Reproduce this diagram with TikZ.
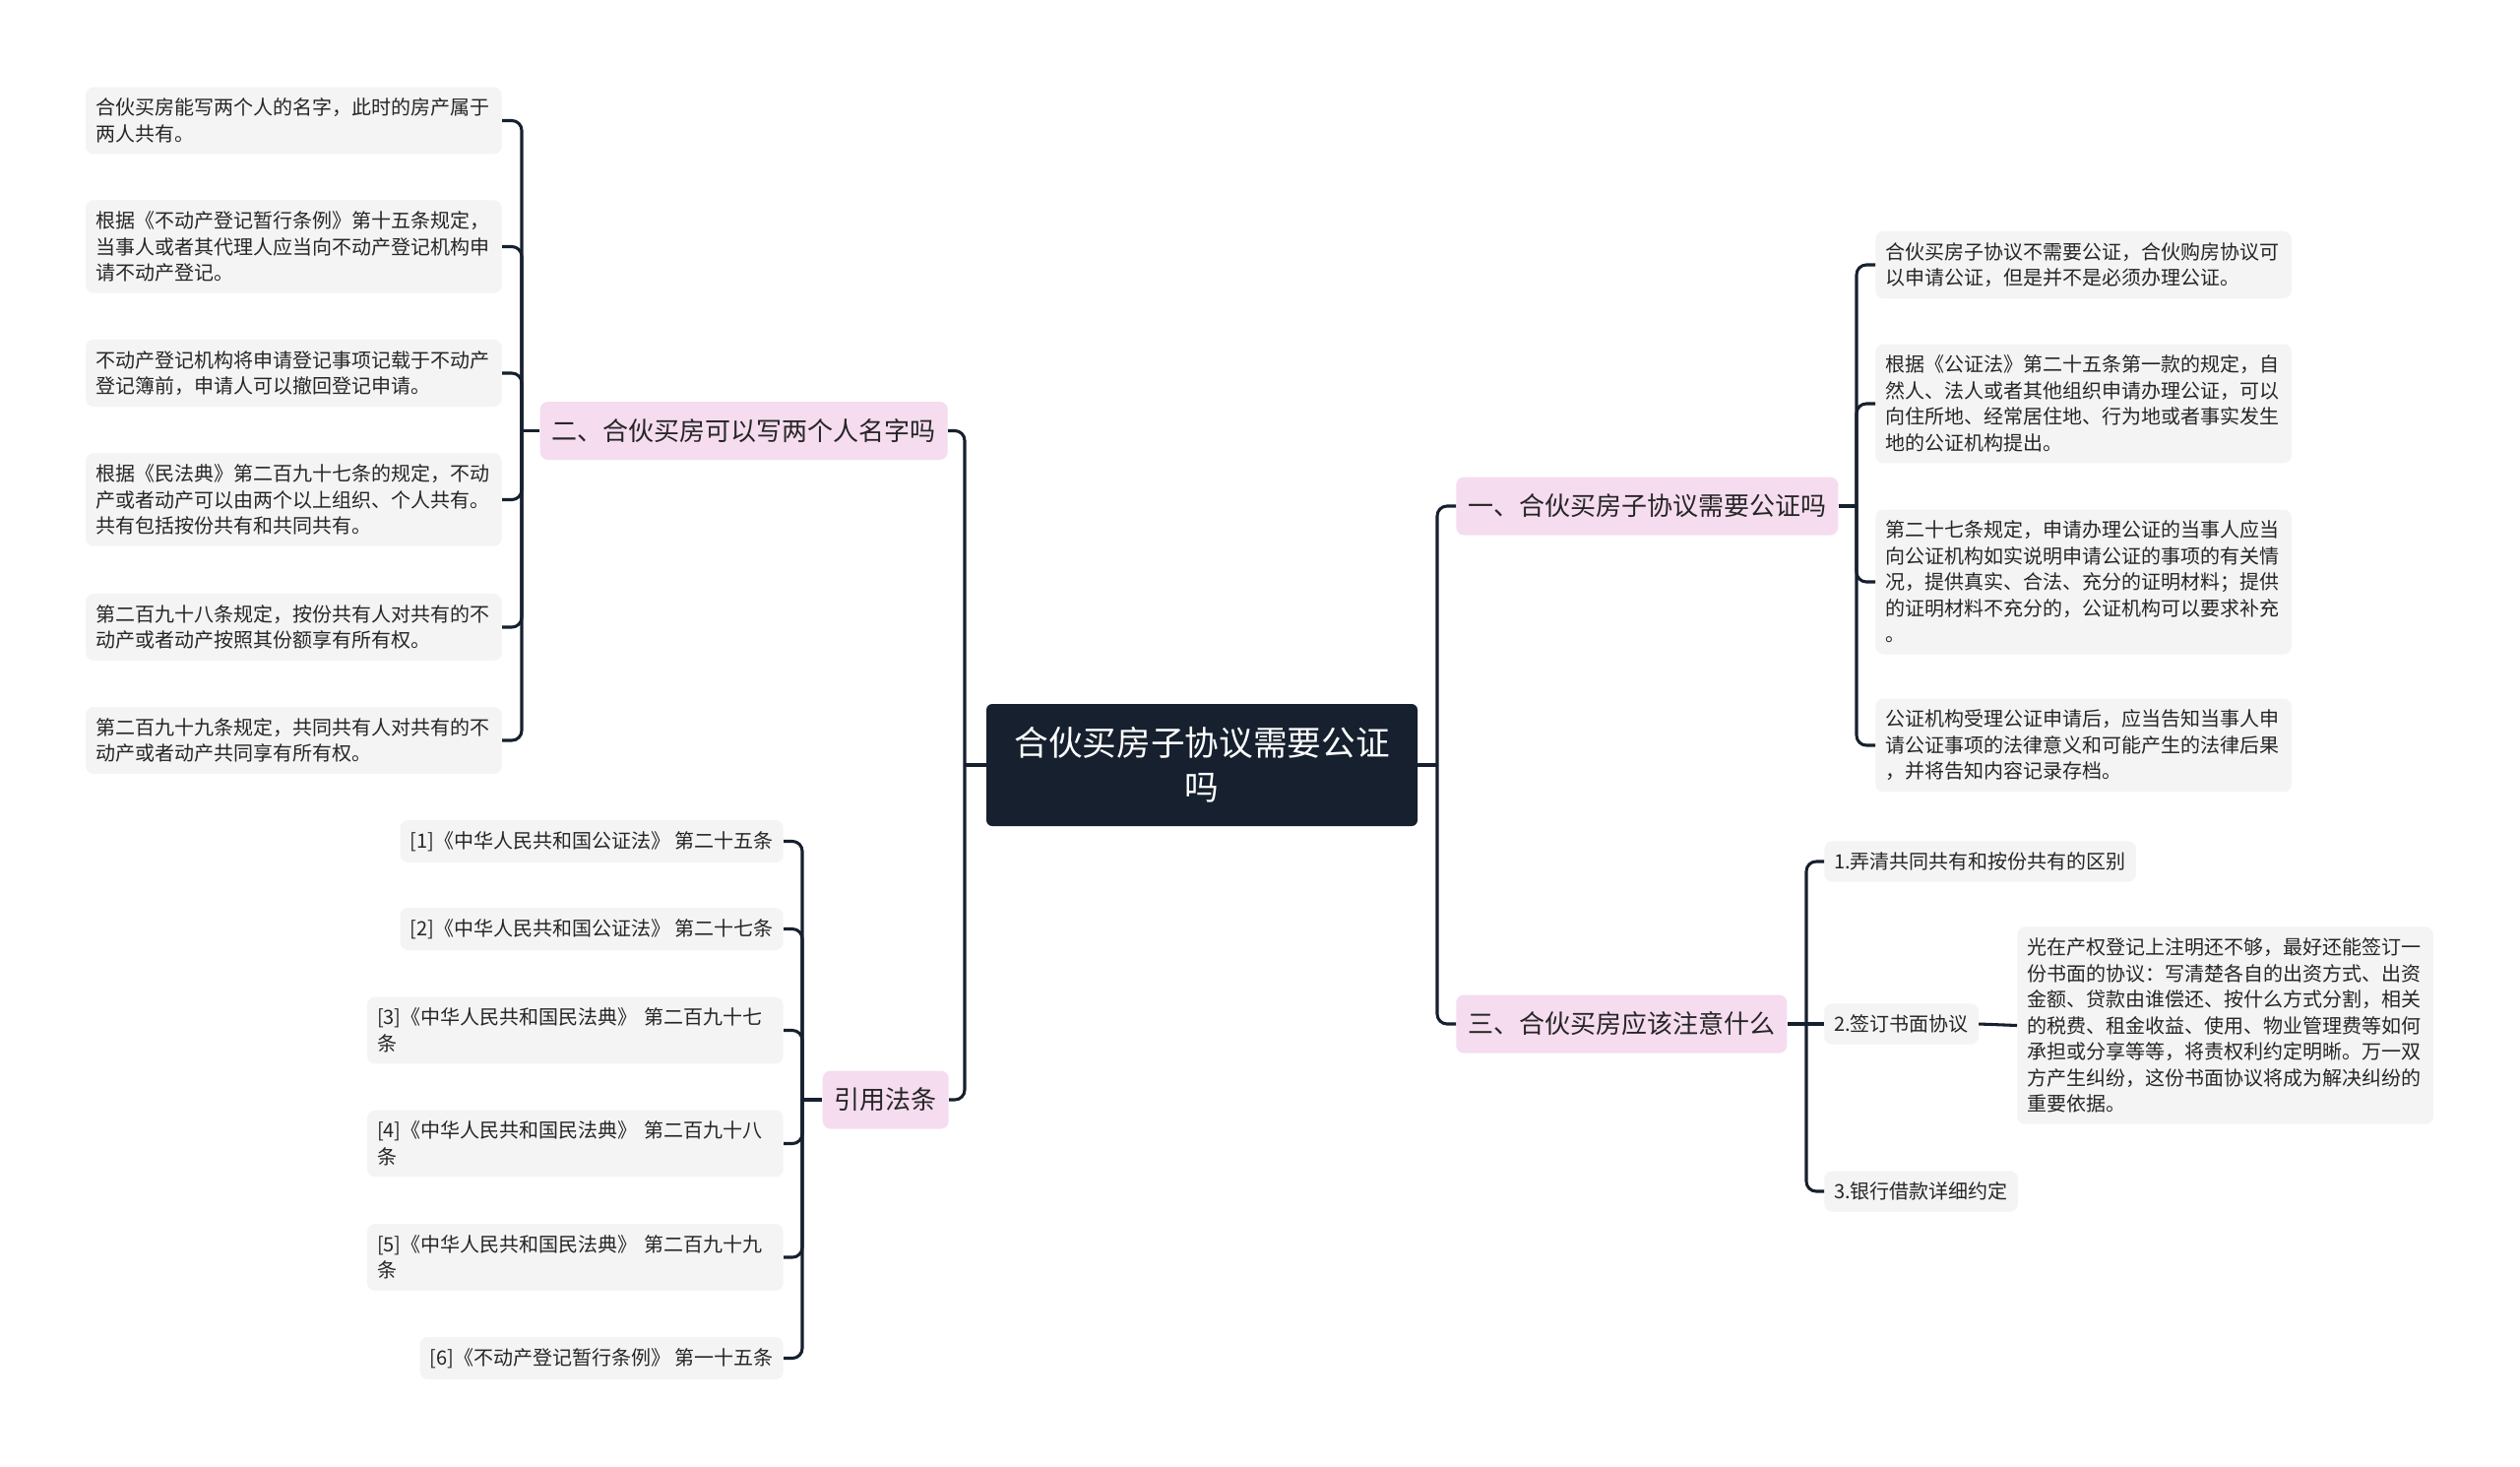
\documentclass[tikz,border=0pt]{standalone}
\usepackage{fontspec}
\setmainfont{Noto Sans CJK SC}
\usepackage{tikz}
\definecolor{rootink}{HTML}{16202E}
\definecolor{pinkfill}{HTML}{F5DCEF}
\definecolor{leaffill}{HTML}{F4F4F4}
\definecolor{textink}{HTML}{262626}

\begin{document}
\begin{tikzpicture}[x=0.75pt, y=-0.75pt,
  root/.style={fill=rootink, text=white, rounded corners=4.5pt, align=center,
    minimum width=328.5pt, minimum height=93pt, inner sep=0pt,
    font=\fontsize{26pt}{33.75pt}\selectfont},
  topic/.style={fill=pinkfill, text=textink, rounded corners=6pt,
    minimum height=44.25pt, inner xsep=9pt, inner ysep=0pt,
    font=\fontsize{19.5pt}{24pt}\selectfont},
  leaf/.style={fill=leaffill, text=textink, rounded corners=6pt, align=left,
    inner xsep=7.5pt, inner ysep=8.5pt,
    font=\fontsize{15pt}{19.9pt}\selectfont},
  wide/.style={leaf, text width=302pt},
  link/.style={draw=rootink, line width=2.3pt, rounded corners=7.5pt}]
  \fill[white] (0,0) rectangle (2560,1489);
  \useasboundingbox (0,0) rectangle (2560,1489);

  % centre
  \node[root] (hub) at (1221,777) {合伙买房子协议需要公证\\吗};

  % main branches
  \node[topic, anchor=west] (t1) at (1479,514) {一、合伙买房子协议需要公证吗};
  \node[topic, anchor=east] (t2) at (963,437.5) {二、合伙买房可以写两个人名字吗};
  \node[topic, anchor=west] (t3) at (1479,1040) {三、合伙买房应该注意什么};
  \node[topic, anchor=east] (t4) at (964,1117) {引用法条};

  % leaves of t2
  \node[wide, anchor=east] (a1) at (510,122.5) {合伙买房能写两个人的名字，此时的房产属于\\两人共有。};
  \node[wide, anchor=east] (a2) at (510,250.5) {根据《不动产登记暂行条例》第十五条规定，\\当事人或者其代理人应当向不动产登记机构申\\请不动产登记。};
  \node[wide, anchor=east] (a3) at (510,379) {不动产登记机构将申请登记事项记载于不动产\\登记簿前，申请人可以撤回登记申请。};
  \node[wide, anchor=east] (a4) at (510,507.5) {根据《民法典》第二百九十七条的规定，不动\\产或者动产可以由两个以上组织、个人共有。\\共有包括按份共有和共同共有。};
  \node[wide, anchor=east] (a5) at (510,637) {第二百九十八条规定，按份共有人对共有的不\\动产或者动产按照其份额享有所有权。};
  \node[wide, anchor=east] (a6) at (510,752) {第二百九十九条规定，共同共有人对共有的不\\动产或者动产共同享有所有权。};

  % leaves of t4
  \node[leaf, anchor=east] (r1) at (796,854.5) {[1]《中华人民共和国公证法》 第二十五条};
  \node[leaf, anchor=east] (r2) at (796,943.5) {[2]《中华人民共和国公证法》 第二十七条};
  \node[wide, anchor=east] (r3) at (796,1046.5) {[3]《中华人民共和国民法典》 第二百九十七\\条};
  \node[wide, anchor=east] (r4) at (796,1161.5) {[4]《中华人民共和国民法典》 第二百九十八\\条};
  \node[wide, anchor=east] (r5) at (796,1277) {[5]《中华人民共和国民法典》 第二百九十九\\条};
  \node[leaf, anchor=east] (r6) at (796,1379.5) {[6]《不动产登记暂行条例》 第一十五条};

  % leaves of t1
  \node[wide, anchor=west] (b1) at (1905,269) {合伙买房子协议不需要公证，合伙购房协议可\\以申请公证，但是并不是必须办理公证。};
  \node[wide, anchor=west] (b2) at (1905,410) {根据《公证法》第二十五条第一款的规定，自\\然人、法人或者其他组织申请办理公证，可以\\向住所地、经常居住地、行为地或者事实发生\\地的公证机构提出。};
  \node[wide, anchor=west] (b3) at (1905,591) {第二十七条规定，申请办理公证的当事人应当\\向公证机构如实说明申请公证的事项的有关情\\况，提供真实、合法、充分的证明材料；提供\\的证明材料不充分的，公证机构可以要求补充\\。};
  \node[wide, anchor=west] (b4) at (1905,757) {公证机构受理公证申请后，应当告知当事人申\\请公证事项的法律意义和可能产生的法律后果\\，并将告知内容记录存档。};

  % leaves of t3
  \node[leaf, anchor=west] (c1) at (1853,875) {1.弄清共同共有和按份共有的区别};
  \node[leaf, anchor=west] (c2) at (1853,1040) {2.签订书面协议};
  \node[leaf, anchor=west] (c3) at (1853,1210) {3.银行借款详细约定};
  \node[wide, anchor=west] (c2a) at (2049,1041.5) {光在产权登记上注明还不够，最好还能签订一\\份书面的协议：写清楚各自的出资方式、出资\\金额、贷款由谁偿还、按什么方式分割，相关\\的税费、租金收益、使用、物业管理费等如何\\承担或分享等等，将责权利约定明晰。万一双\\方产生纠纷，这份书面协议将成为解决纠纷的\\重要依据。};

  % junctions
  \coordinate (jl) at (980,777);
  \coordinate (jr) at (1460,777);
  \coordinate (j1) at (1886,514);
  \coordinate (j2) at (530,437.5);
  \coordinate (j3) at (1835,1040);
  \coordinate (j4) at (815,1117);

  % connectors
  \draw[link] (hub.west) -- (jl);
  \draw[link] (jl) |- (t2.east);
  \draw[link] (jl) |- (t4.east);
  \draw[link] (hub.east) -- (jr);
  \draw[link] (jr) |- (t1.west);
  \draw[link] (jr) |- (t3.west);

  \draw[link] (t2.west) -- (j2);
  \draw[link] (j2) |- (a1.east);
  \draw[link] (j2) |- (a2.east);
  \draw[link] (j2) |- (a3.east);
  \draw[link] (j2) |- (a4.east);
  \draw[link] (j2) |- (a5.east);
  \draw[link] (j2) |- (a6.east);

  \draw[link] (t4.west) -- (j4);
  \draw[link] (j4) |- (r1.east);
  \draw[link] (j4) |- (r2.east);
  \draw[link] (j4) |- (r3.east);
  \draw[link] (j4) |- (r4.east);
  \draw[link] (j4) |- (r5.east);
  \draw[link] (j4) |- (r6.east);

  \draw[link] (t1.east) -- (j1);
  \draw[link] (j1) |- (b1.west);
  \draw[link] (j1) |- (b2.west);
  \draw[link] (j1) |- (b3.west);
  \draw[link] (j1) |- (b4.west);

  \draw[link] (t3.east) -- (j3);
  \draw[link] (j3) |- (c1.west);
  \draw[link] (j3) -- (c2.west);
  \draw[link] (j3) |- (c3.west);
  \draw[link] (c2.east) -- (c2a.west);
\end{tikzpicture}
\end{document}
